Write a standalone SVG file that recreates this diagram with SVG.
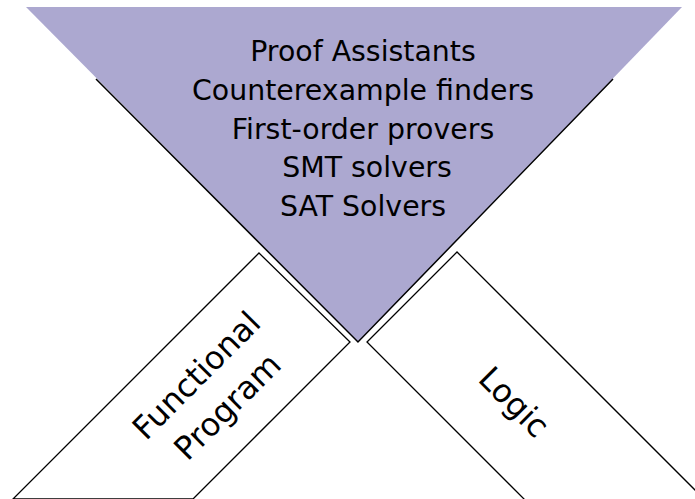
<svg xmlns="http://www.w3.org/2000/svg" width="695" height="499" viewBox="0 0 695 499">
<style>
.lbl{font-family:"DejaVu Sans",sans-serif;fill:#000;text-anchor:middle}
.top{font-size:28.4px}
.side{font-size:32px}
.box{fill:#fff;stroke:#000;stroke-width:1.3}
.edge{fill:none;stroke:#000;stroke-width:1.5}
</style>
<rect width="695" height="499" fill="#fff"/>
<g id="tools">
<polygon points="26,7 682,7 358,342" fill="#aca8d0"/>
<polyline class="edge" points="96,79 358,342 613,79"/>
<text class="lbl top" x="363" y="61">Proof Assistants</text>
<text class="lbl top" x="363" y="100">Counterexample finders</text>
<text class="lbl top" x="363" y="139">First-order provers</text>
<text class="lbl top" x="367" y="177">SMT solvers</text>
<text class="lbl top" x="363" y="216">SAT Solvers</text>
</g>
<g id="functional-program">
<polygon class="box" points="259,253 350,342 193,499 13,499"/>
<g transform="translate(212,391) rotate(-45)">
<text class="lbl side" x="0" y="-11">Functional</text>
<text class="lbl side" x="0" y="33">Program</text>
</g>
</g>
<g id="logic">
<polygon class="box" points="457,252 367,342 540,515 720,515"/>
<text class="lbl side" transform="translate(514,402) rotate(45)" x="0" y="11">Logic</text>
</g>
<g id="connectors"></g>
</svg>
